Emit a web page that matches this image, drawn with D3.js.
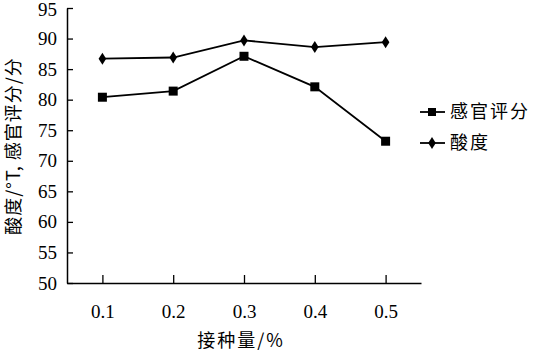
<!DOCTYPE html>
<html>
<head>
<meta charset="utf-8">
<script src="https://d3js.org/d3.v7.min.js"></script>
<style>
  body { margin: 0; background: #fff; }
  text { fill: #000; }
</style>
</head>
<body>
<div id="chart"></div>
<script>
// data
var dosage = [0.1, 0.2, 0.3, 0.4, 0.5];
var sensoryScore = [80.4, 81.4, 87.1, 82.1, 73.2];   // 感官评分
var acidity = [86.7, 86.9, 89.7, 88.6, 89.4];        // 酸度
var yTicks = [50, 55, 60, 65, 70, 75, 80, 85, 90, 95];
var seriesNames = ["感官评分", "酸度"];

var W = 537, H = 351;
var svg = d3.select("#chart").append("svg")
    .attr("width", W).attr("height", H);

var x = d3.scaleLinear().domain([0.05, 0.55]).range([67, 421]);
var y = d3.scaleLinear().domain([50, 95]).range([283, 8]);

var numFont = "'Liberation Serif', 'DejaVu Serif', serif";
var cjkFont = "'Noto Sans CJK SC', sans-serif";

// y axis, ticks pointing inward
var yAxis = svg.append("g")
    .attr("transform", "translate(67,0)")
    .call(d3.axisRight(y).tickValues(yTicks).tickSize(6).tickSizeOuter(0));
yAxis.select(".domain").attr("stroke-width", 1.5);
yAxis.selectAll(".tick line").attr("stroke-width", 1.3);
yAxis.selectAll(".tick text")
    .attr("x", -10).attr("text-anchor", "end")
    .attr("dy", function(d) { return d === 95 ? "0.42em" : "0.32em"; })
    .style("font-family", numFont).style("font-size", "19px");

// x axis, ticks pointing up
var xAxis = svg.append("g")
    .attr("transform", "translate(0,283)")
    .call(d3.axisTop(x).tickValues(dosage).tickSize(8).tickSizeOuter(0)
      .tickFormat(d3.format(".1f")));
xAxis.select(".domain").attr("stroke-width", 1.5);
xAxis.selectAll(".tick line").attr("stroke-width", 1.3);
xAxis.selectAll(".tick text")
    .attr("y", 22).attr("dy", "0.71em")
    .style("font-family", numFont).style("font-size", "19px");

// axis titles
svg.append("text")
    .attr("x", 241).attr("y", 347)
    .attr("text-anchor", "middle")
    .style("font-family", cjkFont).style("font-size", "18px")
    .style("letter-spacing", "2px")
    .text("接种量/%");

svg.append("text")
    .attr("transform", "translate(20,146) rotate(-90)")
    .attr("text-anchor", "middle")
    .style("font-family", cjkFont).style("font-size", "18px")
    .style("letter-spacing", "1px")
    .text("酸度/°T, 感官评分/分");

var line = d3.line()
    .x(function(d, i) { return x(dosage[i]); })
    .y(function(d) { return y(d); });

// sensory score line + squares
svg.append("path").datum(sensoryScore)
    .attr("d", line).attr("fill", "none")
    .attr("stroke", "#000").attr("stroke-width", 1.8);
svg.selectAll(".sq").data(sensoryScore).enter().append("rect")
    .attr("x", function(d, i) { return x(dosage[i]) - 4.5; })
    .attr("y", function(d) { return y(d) - 4.5; })
    .attr("width", 9).attr("height", 9).attr("fill", "#000");

// acidity line + diamonds
var diamond = "M0,-6L3.8,0L0,6L-3.8,0Z";
svg.append("path").datum(acidity)
    .attr("d", line).attr("fill", "none")
    .attr("stroke", "#000").attr("stroke-width", 1.8);
svg.selectAll(".dm").data(acidity).enter().append("path")
    .attr("d", diamond)
    .attr("transform", function(d, i) { return "translate(" + x(dosage[i]) + "," + y(d) + ")"; })
    .attr("fill", "#000");

// legend
var legend = svg.append("g");
var legY = [112, 143];
legend.selectAll("line").data(seriesNames).enter().append("line")
    .attr("x1", 420).attr("x2", 445)
    .attr("y1", function(d, i) { return legY[i]; })
    .attr("y2", function(d, i) { return legY[i]; })
    .attr("stroke", "#000").attr("stroke-width", 1.8);
legend.append("rect").attr("x", 428).attr("y", legY[0] - 4).attr("width", 8).attr("height", 8);
legend.append("path").attr("d", diamond)
    .attr("transform", "translate(432," + legY[1] + ")");
legend.selectAll("text").data(seriesNames).enter().append("text")
    .attr("x", 450)
    .attr("y", function(d, i) { return legY[i]; })
    .attr("dy", "0.35em")
    .style("font-family", cjkFont).style("font-size", "18px")
    .style("letter-spacing", "2px")
    .text(function(d) { return d; });
</script>
</body>
</html>
